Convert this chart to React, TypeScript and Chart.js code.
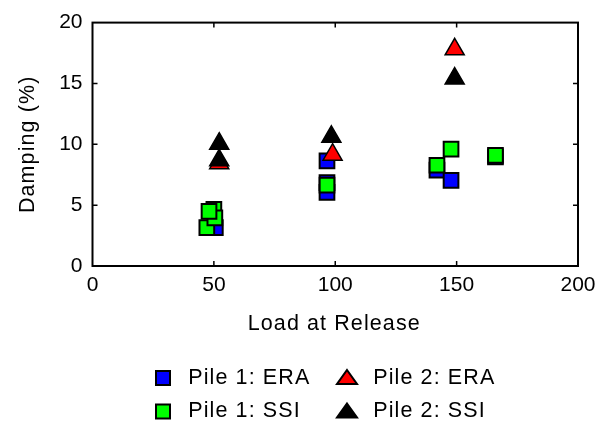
import React, { useEffect, useRef } from 'react';
import { Chart, registerables } from 'chart.js';

Chart.register(...registerables);

// ---- data ----
const xTicks = [0, 50, 100, 150, 200];
const yTicks = [0, 5, 10, 15, 20];
const xLabel = 'Load at Release';
const yLabel = 'Damping (%)';

const seriesNames = ['Pile 1: ERA', 'Pile 1: SSI', 'Pile 2: ERA', 'Pile 2: SSI'];

const pile1EraLoad = [50.6, 96.6, 96.6, 96.6, 141.9, 147.7, 166.0];
const pile1EraDamp = [3.16, 8.64, 6.85, 6.05, 7.88, 7.03, 8.97];

const pile1SsiLoad = [50.0, 47.1, 50.4, 48.0, 96.6, 141.9, 147.7, 166.0];
const pile1SsiDamp = [4.65, 3.16, 3.96, 4.49, 6.65, 8.28, 9.6, 9.09];

const pile2EraLoad = [52.2, 98.9, 149.2];
const pile2EraDamp = [8.45, 9.15, 17.8];

const pile2SsiLoad = [52.2, 52.2, 98.4, 149.2];
const pile2SsiDamp = [10.05, 8.68, 10.62, 15.4];

// ---- styles ----
const FONT_FAMILY = 'Arial, "Liberation Sans", sans-serif';
const colors = ['#0000FF', '#00FF00', '#FF0000', '#000000'];
const shapes = ['rect', 'rect', 'triangle', 'triangle'];

const toPoints = (xs: number[], ys: number[]) => xs.map((x, i) => ({ x, y: ys[i] }));

const framePlugin = {
  id: 'frameAndLegend',
  afterDraw(chart: any) {
    const { ctx, chartArea } = chart;
    const { left, right, top, bottom } = chartArea;
    const xs = chart.scales.x;
    const ys = chart.scales.y;
    ctx.save();
    // frame
    ctx.strokeStyle = '#000';
    ctx.lineWidth = 2;
    ctx.strokeRect(left, top, right - left, bottom - top);
    // inward ticks
    ctx.lineWidth = 1.5;
    const tl = 5;
    ctx.beginPath();
    xTicks.slice(1, -1).forEach((v) => {
      const px = xs.getPixelForValue(v);
      ctx.moveTo(px, bottom);
      ctx.lineTo(px, bottom - tl);
      ctx.moveTo(px, top);
      ctx.lineTo(px, top + tl);
    });
    yTicks.slice(1, -1).forEach((v) => {
      const py = ys.getPixelForValue(v);
      ctx.moveTo(left, py);
      ctx.lineTo(left + tl, py);
      ctx.moveTo(right, py);
      ctx.lineTo(right - tl, py);
    });
    ctx.stroke();

    // titles
    ctx.fillStyle = '#000';
    ctx.font = `21.5px ${FONT_FAMILY}`;
    try { (ctx as any).letterSpacing = '1.1px'; } catch (e) {}
    ctx.textBaseline = 'alphabetic';
    ctx.textAlign = 'left';
    const cx = (left + right) / 2 - 1;
    const wx = ctx.measureText(xLabel).width;
    ctx.fillText(xLabel, cx - wx / 2, bottom + 64);

    ctx.save();
    const cy = (top + bottom) / 2;
    ctx.translate(left - 59, cy);
    ctx.rotate(-Math.PI / 2);
    const wy = ctx.measureText(yLabel).width;
    ctx.fillText(yLabel, -wy / 2, 0);
    ctx.restore();

    // legend
    const rowY = [bottom + 112, bottom + 145.5];
    const colMarker = [left + 70.5, left + 254.5];
    const colText = [left + 95.8, left + 280.8];
    seriesNames.forEach((name, i) => {
      const col = Math.floor(i / 2);
      const row = i % 2;
      const mx = colMarker[col];
      const my = rowY[row];
      ctx.fillStyle = colors[i];
      ctx.strokeStyle = '#000';
      ctx.lineWidth = 2;
      ctx.beginPath();
      if (shapes[i] === 'rect') {
        ctx.rect(mx - 7, my - 7, 14, 14);
      } else {
        ctx.moveTo(mx, my - 8);
        ctx.lineTo(mx + 10, my + 6);
        ctx.lineTo(mx - 10, my + 6);
        ctx.closePath();
      }
      ctx.fill();
      ctx.stroke();
      ctx.fillStyle = '#000';
      ctx.fillText(name, colText[col], my + 5.5);
    });
    ctx.restore();
  },
};

export default function App() {
  const ref = useRef<HTMLCanvasElement>(null);

  useEffect(() => {
    document.body.style.margin = '0';
    const canvas = ref.current;
    if (!canvas) return;
    const series = [
      toPoints(pile1EraLoad, pile1EraDamp),
      toPoints(pile1SsiLoad, pile1SsiDamp),
      toPoints(pile2EraLoad, pile2EraDamp),
      toPoints(pile2SsiLoad, pile2SsiDamp),
    ];
    const chart = new Chart(canvas, {
      type: 'scatter',
      data: {
        datasets: series.map((data, i) => ({
          label: seriesNames[i],
          data,
          pointStyle: shapes[i] as any,
          pointRadius: shapes[i] === 'rect' ? 10.4 : 11,
          pointHoverRadius: shapes[i] === 'rect' ? 10.4 : 11,
          backgroundColor: colors[i],
          borderColor: '#000',
          borderWidth: shapes[i] === 'rect' ? 2 : 1.5,
          order: 4 - i,
        })),
      },
      options: {
        responsive: false,
        animation: false,
        devicePixelRatio: 1,
        layout: { padding: { left: 0, top: 17, right: 28, bottom: 0 } },
        plugins: {
          legend: { display: false },
          tooltip: { enabled: false },
        },
        scales: {
          x: {
            type: 'linear',
            min: xTicks[0],
            max: xTicks[xTicks.length - 1],
            grid: { display: false, drawTicks: false },
            border: { display: false },
            ticks: {
              stepSize: 50,
              padding: 7,
              color: '#000',
              font: { family: FONT_FAMILY, size: 21 },
              maxRotation: 0,
            },
            afterFit: (scale: any) => {
              scale.height = 159;
            },
          },
          y: {
            type: 'linear',
            min: yTicks[0],
            max: yTicks[yTicks.length - 1],
            grid: { display: false, drawTicks: false },
            border: { display: false },
            ticks: {
              stepSize: 5,
              padding: 10,
              color: '#000',
              font: { family: FONT_FAMILY, size: 21 },
            },
            afterFit: (scale: any) => {
              scale.width = 92.5;
            },
          },
        },
      },
      plugins: [framePlugin],
    });
    return () => chart.destroy();
  }, []);

  return (
    <div style={{ width: 606, height: 425, background: '#fff' }}>
      <canvas ref={ref} width={606} height={425} style={{ display: 'block' }} />
    </div>
  );
}
